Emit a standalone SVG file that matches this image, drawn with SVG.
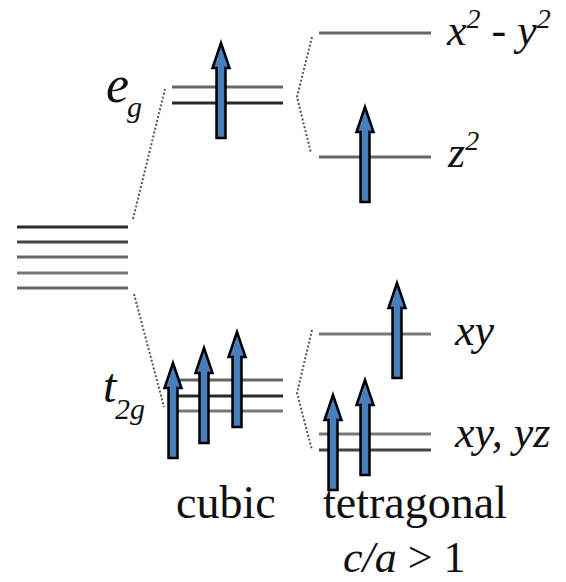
<svg xmlns="http://www.w3.org/2000/svg" width="566" height="582" viewBox="0 0 566 582">
<style>
.lv{stroke-width:3;fill:none}
.d1{stroke:#2a2a2a}.d2{stroke:#444}.d3{stroke:#666}.d4{stroke:#777}
.dot{stroke:#555;stroke-width:2;stroke-dasharray:2 2;fill:none}
text{font-family:"Liberation Serif","DejaVu Serif",serif;fill:#111}
.i{font-style:italic}
.arr{fill:#4A7EBB;stroke:#000;stroke-width:2.5;stroke-linejoin:miter}
</style>
<defs>
<path id="arrow" d="M0,0 L8.5,25 L4.5,25 L4.5,95 L-4.5,95 L-4.5,25 L-8.5,25 Z"/>
</defs>
<rect width="566" height="582" fill="#fff"/>
<g id="d-levels">
<line class="lv d1" x1="17" y1="227" x2="128" y2="227"/>
<line class="lv d2" x1="17" y1="242" x2="128" y2="242"/>
<line class="lv d3" x1="17" y1="257" x2="128" y2="257"/>
<line class="lv d4" x1="17" y1="273" x2="128" y2="273"/>
<line class="lv d3" x1="17" y1="288" x2="128" y2="288"/>
</g>
<g id="eg">
<line class="lv d3" x1="172" y1="87" x2="283" y2="87"/>
<line class="lv d1" x1="172" y1="103" x2="283" y2="103"/>
<text class="i" x="106" y="102" font-size="52" font-family="Liberation Serif, serif">e</text>
<text class="i" x="127" y="117" font-size="30" font-family="Liberation Serif, serif">g</text>
<use href="#arrow" class="arr" x="221" y="43"/>
</g>
<g id="t2g">
<line class="lv d3" x1="172" y1="380" x2="283" y2="380"/>
<line class="lv d1" x1="172" y1="396" x2="283" y2="396"/>
<line class="lv d4" x1="172" y1="411" x2="283" y2="411"/>
<text class="i" x="103" y="402" font-size="48" font-family="Liberation Serif, serif">t</text>
<text class="i" x="115" y="419" font-size="30" font-family="Liberation Serif, serif">2g</text>
<use href="#arrow" class="arr" x="173" y="363"/>
<use href="#arrow" class="arr" x="204" y="348"/>
<use href="#arrow" class="arr" x="237" y="332"/>
</g>
<g id="x2y2">
<line class="lv d3" x1="319" y1="33" x2="431" y2="33"/>
<text class="i" x="447" y="45" font-size="44" font-family="Liberation Serif, serif">x<tspan font-size="28" dy="-17">2</tspan><tspan dy="17"> - y</tspan><tspan font-size="28" dy="-17">2</tspan></text>
</g>
<g id="z2">
<line class="lv d3" x1="319" y1="157" x2="431" y2="157"/>
<text class="i" x="448" y="167" font-size="44" font-family="Liberation Serif, serif">z<tspan font-size="28" dy="-17">2</tspan></text>
<use href="#arrow" class="arr" x="365" y="107"/>
</g>
<g id="xy">
<line class="lv d4" x1="319" y1="334" x2="431" y2="334"/>
<text class="i" x="455" y="345" font-size="44" font-family="Liberation Serif, serif">xy</text>
<use href="#arrow" class="arr" x="397" y="283"/>
</g>
<g id="xzyz">
<line class="lv d4" x1="319" y1="434" x2="431" y2="434"/>
<line class="lv d2" x1="319" y1="450" x2="431" y2="450"/>
<text class="i" x="455" y="447" font-size="44" font-family="Liberation Serif, serif">xy, yz</text>
<use href="#arrow" class="arr" x="365" y="380"/>
<use href="#arrow" class="arr" x="333" y="395"/>
</g>
<g id="labels">
<text x="176" y="518" font-size="46" font-family="Liberation Serif, serif">cubic</text>
<text x="323" y="518" font-size="46" font-family="Liberation Serif, serif">tetragonal</text>
<text x="343" y="572" font-size="44" font-family="Liberation Serif, serif"><tspan class="i">c/a</tspan> &gt; 1</text>
</g>
<g id="connectors">
<path class="dot" d="M133,219 L165,89"/>
<path class="dot" d="M134,294 L164,407"/>
<path class="dot" d="M312,37 L297,97 L311,153"/>
<path class="dot" d="M312,330 L297,393 L312,450"/>
</g>
</svg>
